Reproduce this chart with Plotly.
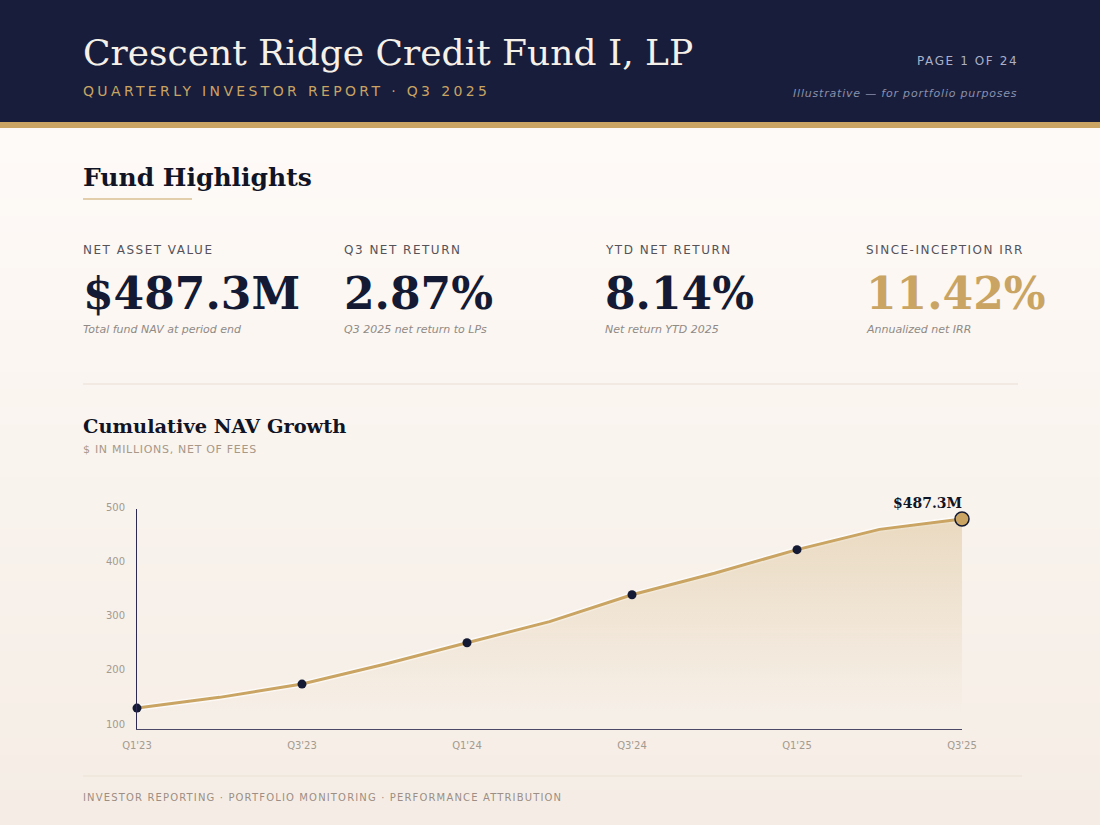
import plotly.graph_objects as go

# chart data ($M, net of fees)
quarters = ["Q1'23", "Q2'23", "Q3'23", "Q4'23", "Q1'24", "Q2'24",
            "Q3'24", "Q4'24", "Q1'25", "Q2'25", "Q3'25"]
nav = [138.6, 158.4, 182.9, 219.5, 259.1, 298.0, 347.6, 387.4, 430.8, 468.2, 487.3]
marked_quarters = ["Q1'23", "Q3'23", "Q1'24", "Q3'24", "Q1'25"]
marked_nav = [138.6, 182.9, 259.1, 347.6, 430.8]
x_ticks = ["Q1'23", "Q3'23", "Q1'24", "Q3'24", "Q1'25", "Q3'25"]
y_ticks = [100, 200, 300, 400, 500]

kpi_labels = ["NET ASSET VALUE", "Q3 NET RETURN", "YTD NET RETURN", "SINCE-INCEPTION IRR"]
kpi_values = ["$487.3M", "2.87%", "8.14%", "11.42%"]
kpi_notes = ["Total fund NAV at period end", "Q3 2025 net return to LPs",
             "Net return YTD 2025", "Annualized net IRR"]

W, H = 1100, 825
NAVY = "#181d3c"
GOLD = "#c9a462"
INK = "#141a33"
SERIF = "DejaVu Serif"
SANS = "DejaVu Sans"


def px(x):
    return x / W


def py(y):
    return 1 - y / H


def spaced(text, ls):
    return '<span style="letter-spacing:%spx">%s</span>' % (ls, text)


fig = go.Figure()

# soft halo under the line
fig.add_trace(go.Scatter(
    x=quarters, y=nav, mode="lines",
    line=dict(color="rgba(255,255,255,0.7)", width=6),
    hoverinfo="skip", showlegend=False,
))
fig.add_trace(go.Scatter(
    x=quarters, y=nav, mode="lines",
    line=dict(color=GOLD, width=3),
    fill="tozeroy",
    fillgradient=dict(type="vertical", start=130, stop=490,
                      colorscale=[[0, "rgba(201,164,98,0)"],
                                  [1, "rgba(201,164,98,0.32)"]]),
    hoverinfo="skip", showlegend=False,
))
fig.add_trace(go.Scatter(
    x=marked_quarters, y=marked_nav, mode="markers",
    marker=dict(color=INK, size=9),
    cliponaxis=False, hoverinfo="skip", showlegend=False,
))
fig.add_trace(go.Scatter(
    x=[quarters[-1]], y=[nav[-1]], mode="markers",
    marker=dict(color=GOLD, size=14, line=dict(color=INK, width=1.5)),
    cliponaxis=False, hoverinfo="skip", showlegend=False,
))

shapes = []
# page background gradient (bands)
n_bands = 40
top_c = (254, 250, 247)
bot_c = (245, 237, 229)
y0_px = 128
for i in range(n_bands):
    t = i / (n_bands - 1)
    c = tuple(round(top_c[k] + (bot_c[k] - top_c[k]) * t) for k in range(3))
    ya = y0_px + (H - y0_px) * i / n_bands
    yb = y0_px + (H - y0_px) * (i + 1) / n_bands
    shapes.append(dict(type="rect", xref="paper", yref="paper", layer="below",
                       x0=0, x1=1, y0=py(yb) - 0.001, y1=py(ya),
                       fillcolor="rgb(%d,%d,%d)" % c, line=dict(width=0)))
# header band + gold rule
shapes.append(dict(type="rect", xref="paper", yref="paper", layer="below",
                   x0=0, x1=1, y0=py(122), y1=1, fillcolor=NAVY, line=dict(width=0)))
shapes.append(dict(type="rect", xref="paper", yref="paper", layer="below",
                   x0=0, x1=1, y0=py(128), y1=py(122), fillcolor=GOLD, line=dict(width=0)))
# heading underline
shapes.append(dict(type="line", xref="paper", yref="paper",
                   x0=px(83), x1=px(192), y0=py(199), y1=py(199),
                   line=dict(color=GOLD, width=1.2)))
# separators
shapes.append(dict(type="line", xref="paper", yref="paper",
                   x0=px(83), x1=px(1018), y0=py(384), y1=py(384),
                   line=dict(color="#efe6dd", width=1.5)))
shapes.append(dict(type="line", xref="paper", yref="paper",
                   x0=px(83), x1=px(1022), y0=py(776), y1=py(776),
                   line=dict(color="#eee4da", width=1.5)))

ann = []


def note(x, y, text, size, color, family=SANS, xanchor="left", **kw):
    ann.append(dict(xref="paper", yref="paper", x=px(x), y=py(y), text=text,
                    showarrow=False, xanchor=xanchor, yanchor="middle",
                    font=dict(size=size, color=color, family=family, **kw)))


note(81, 53, "Crescent Ridge Credit Fund I, LP", 36, "#f6f1e8", SERIF)
note(81, 91, spaced("QUARTERLY INVESTOR REPORT · Q3 2025", 3.35), 14, GOLD)
note(1020, 61, spaced("PAGE 1 OF 24", 1.6), 12, "#aab0c8", xanchor="right")
note(1019, 93, spaced("Illustrative — for portfolio purposes", 0.8), 11, "#8a90ab",
     xanchor="right", style="italic")

note(81, 177, "Fund Highlights", 25, "#111425", SERIF, weight="bold")

cols = [83, 344, 605, 866]
for i in range(len(kpi_labels)):
    note(cols[i] - 2, 250, spaced(kpi_labels[i], 1.5), 12, "#55535a")
    note(cols[i] - 2, 293, kpi_values[i], 44, GOLD if i == 3 else INK, SERIF, weight="bold")
    note(cols[i] - 2, 329, kpi_notes[i], 11, "#8f8a85", style="italic")

note(81, 426, "Cumulative NAV Growth", 19.4, "#111425", SERIF, weight="bold")
note(81, 450, spaced("$ IN MILLIONS, NET OF FEES", 0.7), 11, "#a89888")
note(81, 797, spaced("INVESTOR REPORTING · PORTFOLIO MONITORING · PERFORMANCE ATTRIBUTION", 1.15),
     10, "#9c8e84")

ann.append(dict(xref="x", yref="y", x=quarters[-1], y=nav[-1], text="$487.3M",
                showarrow=False, xanchor="right", yanchor="bottom", xshift=2, yshift=6,
                font=dict(size=14, color="#111425", family=SERIF, weight="bold")))

fig.update_layout(
    width=W, height=H,
    margin=dict(l=0, r=0, t=0, b=0, pad=0, autoexpand=False),
    paper_bgcolor="#f8f2ec",
    plot_bgcolor="rgba(0,0,0,0)",
    shapes=shapes,
    annotations=ann,
    showlegend=False,
    hovermode=False,
    xaxis=dict(
        domain=[px(137), px(962)],
        type="category",
        categoryorder="array", categoryarray=quarters,
        range=[0, len(quarters) - 1],
        tickvals=x_ticks, ticktext=x_ticks,
        showgrid=False, zeroline=False,
        showline=True, linecolor="#4a4866", linewidth=1,
        ticks="", ticklabelstandoff=7, automargin=False,
        tickfont=dict(size=10, color="#a39a90", family=SANS),
        fixedrange=True,
    ),
    yaxis=dict(
        domain=[py(729.3), py(509)],
        range=[99.5, 505.75],
        tickvals=y_ticks,
        showgrid=False, zeroline=False,
        showline=True, linecolor="#2c2a52", linewidth=1,
        ticks="", ticklabelstandoff=9, ticklabelshift=-5, automargin=False,
        tickfont=dict(size=10, color="#a39a90", family=SANS),
        fixedrange=True,
    ),
)

fig.write_html("out.html", config={"displayModeBar": False},
               post_script="document.body.style.margin='0';")
